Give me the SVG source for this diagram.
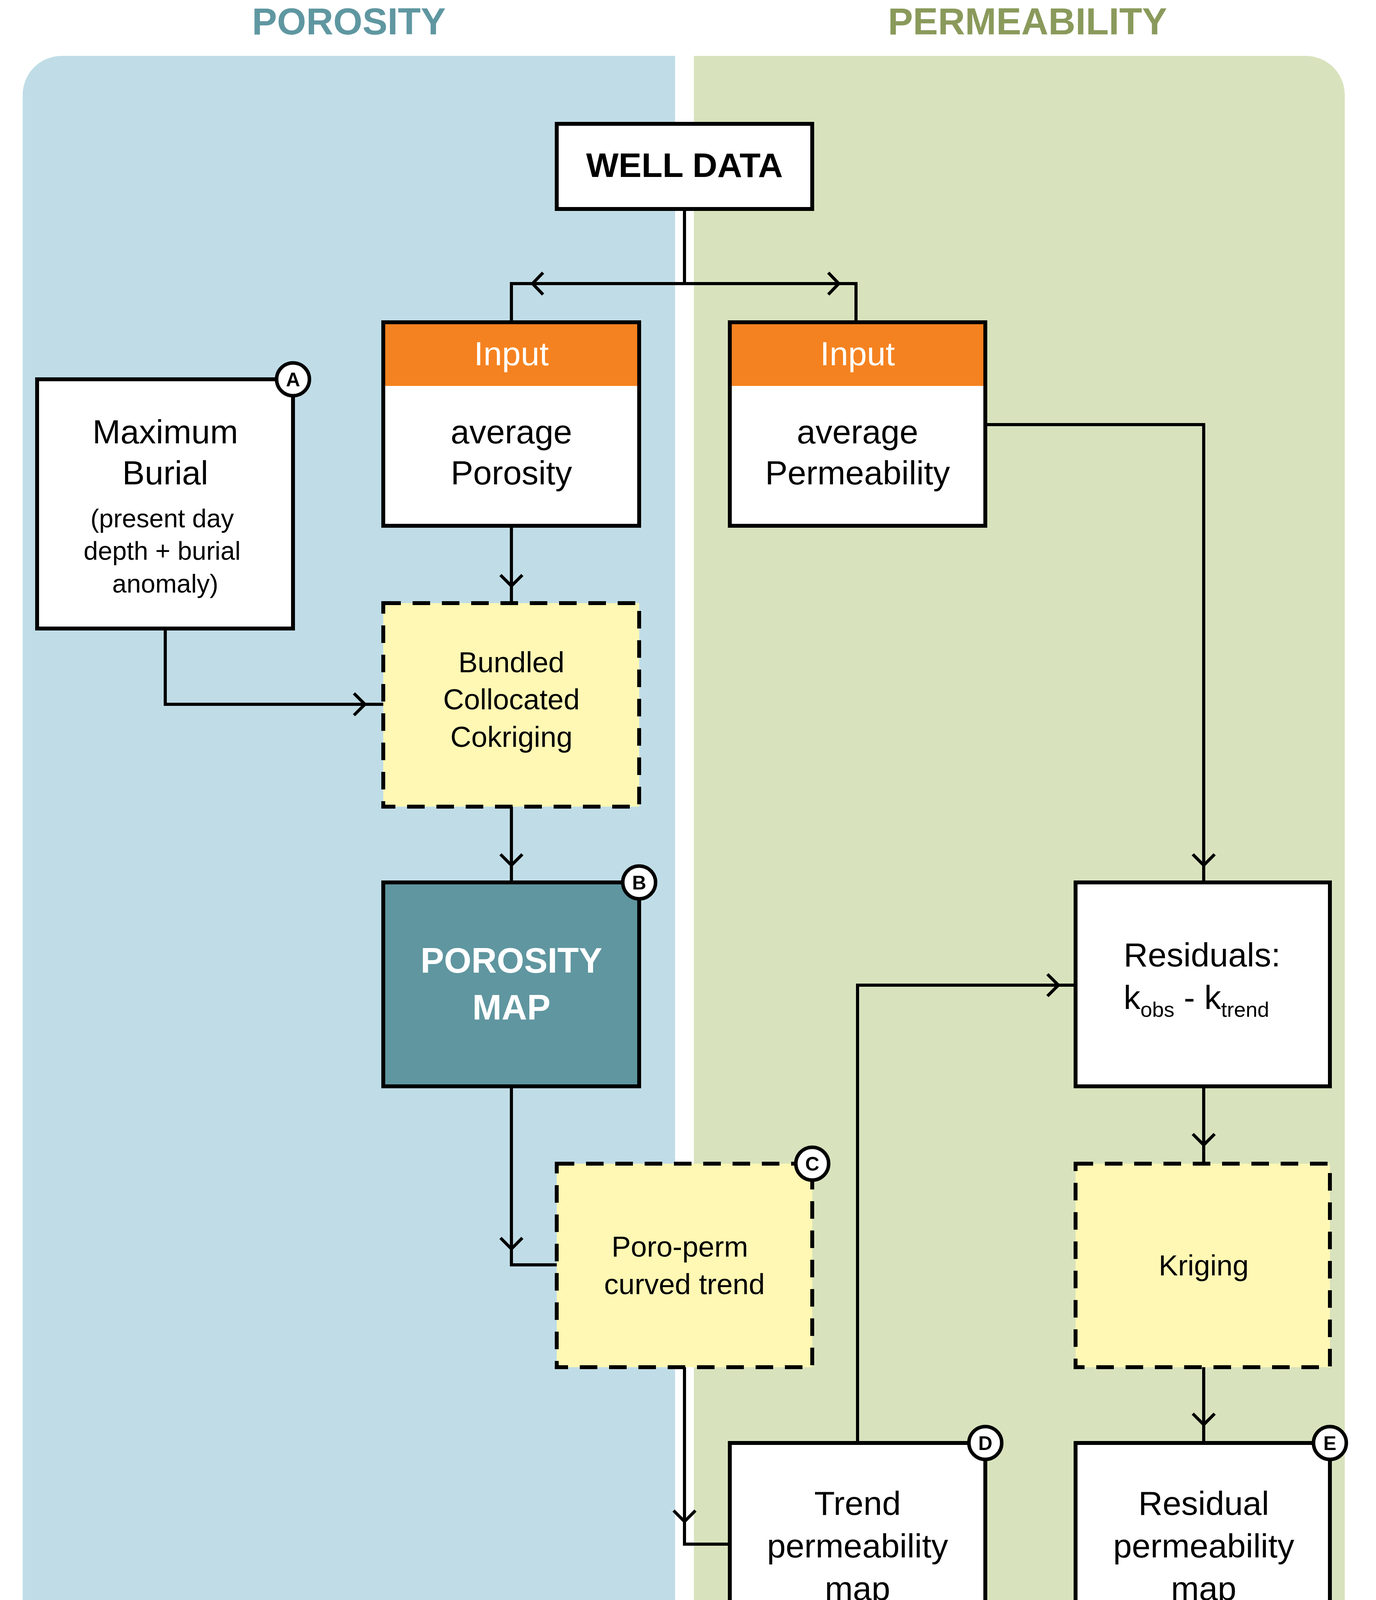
<svg xmlns="http://www.w3.org/2000/svg" width="3522" height="5342" viewBox="0 0 3522 5342">
<style>
text{font-family:"Liberation Sans",Arial,sans-serif;text-anchor:middle;fill:#000}
.box{fill:#fff;stroke:#000;stroke-width:10}
.dash{fill:#fff8b4;stroke:#000;stroke-width:10;stroke-dasharray:45,30}
.ln{fill:none;stroke:#000;stroke-width:8}
.t{font-size:86px}
.s{font-size:66px}
.m{font-size:74px}
.b{font-size:90px;font-weight:bold}
.w{fill:#fff}
.c{fill:#fff;stroke:#000;stroke-width:9}
.cl{font-size:50px;font-weight:bold}
</style>
<rect width="3522" height="5342" fill="#fff"/>
<g id="panels">
<path d="M158,143 H1728 V5252 H158 A100,100 0 0 1 58,5152 V243 A100,100 0 0 1 158,143 Z" fill="#c0dde7"/>
<path d="M1776,143 H3342 A100,100 0 0 1 3442,243 V5152 A100,100 0 0 1 3342,5252 H1776 Z" fill="#d8e3bd"/>
<text x="893" y="88" style="font-size:96px;font-weight:bold;fill:#5f97a1">POROSITY</text>
<text x="2630" y="88" style="font-size:96px;font-weight:bold;fill:#8a9a5b">PERMEABILITY</text>
</g>
<g id="connectors">
<path class="ln" d="M1752,535 V726 M1309,825 V726 H2191 V825"/>
<path class="ln" d="M1390,698 L1363,726 L1390,754 M2120,698 L2147,726 L2120,754"/>
<path class="ln" d="M1309,1346 V1544 M1281,1472 L1309,1500 L1337,1472"/>
<path class="ln" d="M423,1609 V1803 H981 M906,1775 L934,1803 L906,1831"/>
<path class="ln" d="M1309,2065 V2259 M1281,2187 L1309,2215 L1337,2187"/>
<path class="ln" d="M1309,2781 V3238 H1425 M1281,3169 L1309,3197 L1337,3169"/>
<path class="ln" d="M1752,3500 V3953 H1868 M1724,3867 L1752,3895 L1780,3867"/>
<path class="ln" d="M2195,3694 V2522 H2753 M2681,2494 L2709,2522 L2681,2550"/>
<path class="ln" d="M2522,1087 H3081 V2259 M3053,2187 L3081,2215 L3109,2187"/>
<path class="ln" d="M3081,2781 V2979 M3053,2903 L3081,2931 L3109,2903"/>
<path class="ln" d="M3081,3500 V3694 M3053,3619 L3081,3647 L3109,3619"/>
<path class="ln" d="M2195,4216 V4314 H3081 V4216 M2638,4314 V4509 M2221,4286 L2249,4314 L2221,4342 M3054,4286 L3026,4314 L3054,4342 M2610,4430 L2638,4458 L2666,4430"/>
</g>
<g id="well-data"><rect class="box" x="1425" y="317" width="654" height="218"/><text class="b" x="1752" y="453" style="font-size:88px">WELL DATA</text></g>
<g id="input-porosity"><rect class="box" x="981" y="825" width="655" height="521"/><rect x="986" y="830" width="645" height="158" fill="#f58220"/><text class="t w" x="1309" y="935">Input</text><text class="t" x="1309" y="1135">average</text><text class="t" x="1309" y="1240">Porosity</text></g>
<g id="input-permeability"><rect class="box" x="1868" y="825" width="654" height="521"/><rect x="1873" y="830" width="644" height="158" fill="#f58220"/><text class="t w" x="2195" y="935">Input</text><text class="t" x="2195" y="1135">average</text><text class="t" x="2195" y="1240">Permeability</text></g>
<g id="max-burial"><rect class="box" x="95" y="971" width="655" height="638"/><text class="t" x="423" y="1135">Maximum</text><text class="t" x="423" y="1240">Burial</text><text class="s" x="415" y="1350">(present day</text><text class="s" x="415" y="1433">depth + burial</text><text class="s" x="423" y="1517">anomaly)</text><circle class="c" cx="750" cy="971" r="42"/><text class="cl" x="750" y="989">A</text></g>
<g id="cokriging"><rect class="dash" x="981" y="1544" width="655" height="521"/><text class="m" x="1309" y="1721">Bundled</text><text class="m" x="1309" y="1816">Collocated</text><text class="m" x="1309" y="1912">Cokriging</text></g>
<g id="porosity-map"><rect class="box" x="981" y="2259" width="655" height="522" style="fill:#5f96a0"/><text class="b w" x="1309" y="2490">POROSITY</text><text class="b w" x="1309" y="2610">MAP</text><circle class="c" cx="1636" cy="2259" r="42"/><text class="cl" x="1636" y="2277">B</text></g>
<g id="poro-perm"><rect class="dash" x="1425" y="2979" width="654" height="521"/><text class="m" x="1740" y="3217">Poro-perm</text><text class="m" x="1752" y="3313">curved trend</text><circle class="c" cx="2079" cy="2979" r="42"/><text class="cl" x="2079" y="2997">C</text></g>
<g id="residuals"><rect class="box" x="2753" y="2259" width="651" height="522"/><text class="t" x="2876" y="2474" style="text-anchor:start">Residuals:</text><text class="t" x="2876" y="2583" style="text-anchor:start">k<tspan class="s" dy="20" style="font-size:54px">obs</tspan><tspan dy="-20"> - k</tspan><tspan dy="20" style="font-size:54px">trend</tspan></text></g>
<g id="kriging"><rect class="dash" x="2753" y="2979" width="651" height="521"/><text class="m" x="3081" y="3265">Kriging</text></g>
<g id="trend-map"><rect class="box" x="1868" y="3694" width="654" height="522"/><text class="t" x="2195" y="3878">Trend</text><text class="t" x="2195" y="3987">permeability</text><text class="t" x="2195" y="4096">map</text><circle class="c" cx="2522" cy="3694" r="42"/><text class="cl" x="2522" y="3712">D</text></g>
<g id="residual-map"><rect class="box" x="2753" y="3694" width="651" height="522"/><text class="t" x="3081" y="3878">Residual</text><text class="t" x="3081" y="3987">permeability</text><text class="t" x="3081" y="4096">map</text><circle class="c" cx="3404" cy="3694" r="42"/><text class="cl" x="3404" y="3712">E</text></g>
<g id="permeability-map"><rect class="box" x="2253" y="4509" width="770" height="521" style="fill:#8a9a5b"/><text class="b w" x="2638" y="4740">PERMEABILITY</text><text class="b w" x="2638" y="4860">MAP</text><circle class="c" cx="3023" cy="4509" r="42"/><text class="cl" x="3023" y="4527">F</text></g>
</svg>
